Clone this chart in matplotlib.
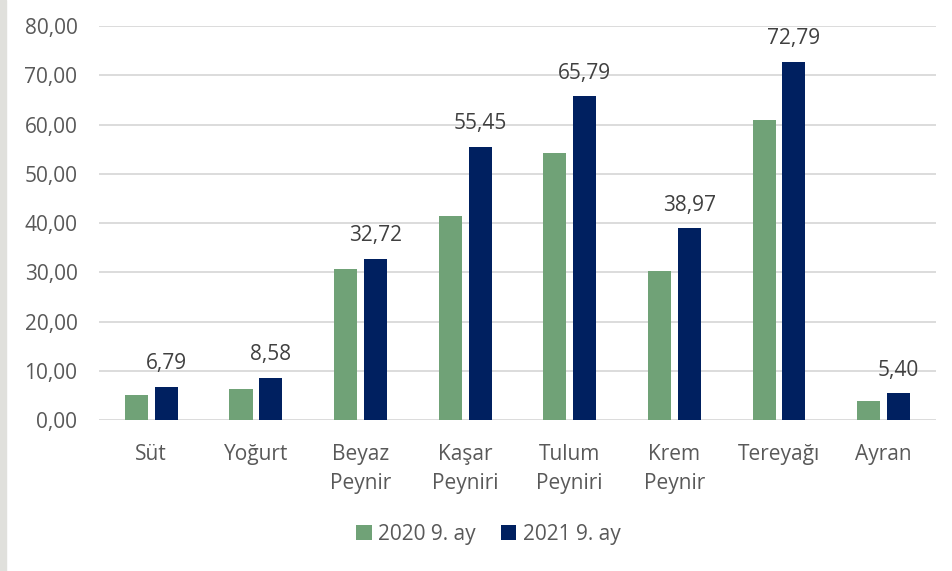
import numpy as np
import matplotlib.pyplot as plt
from matplotlib.patches import Rectangle

plt.rcParams['font.family'] = ['Open Sans', 'DejaVu Sans']

categories = ['Süt', 'Yoğurt', 'Beyaz\nPeynir', 'Kaşar\nPeyniri', 'Tulum\nPeyniri',
              'Krem\nPeynir', 'Tereyağı', 'Ayran']
values_2020 = [5.0, 6.3, 30.6, 41.4, 54.2, 30.2, 60.9, 3.8]
values_2021 = [6.79, 8.58, 32.72, 55.45, 65.79, 38.97, 72.79, 5.40]

green = '#70A277'
navy = '#002060'
text_col = '#595959'

fig = plt.figure(figsize=(9.52, 5.71), dpi=100)
ax = fig.add_axes([0.104, 0.2644, 0.879, 0.690])

# light gray strip on the left edge
fig.patches.append(Rectangle((0, 0), 0.0065, 1, transform=fig.transFigure,
                             color='#E0E0DC', zorder=0))

x = np.arange(len(categories))
w = 0.22
gap = 0.065
ax.bar(x - (w + gap) / 2, values_2020, w, color=green, label='2020 9. ay', zorder=3)
bars = ax.bar(x + (w + gap) / 2, values_2021, w, color=navy, label='2021 9. ay', zorder=3)

# value labels only on the 2021 bars
for b, v in zip(bars, values_2021):
    ax.annotate(f'{v:.2f}'.replace('.', ','), (b.get_x() + b.get_width() / 2, v),
                xytext=(0, 9), textcoords='offset points', ha='center', va='bottom',
                fontsize=15, color='#404040')

ax.set_ylim(0, 80)
ax.set_xlim(-0.5, len(categories) - 0.5)
ax.set_yticks(np.arange(0, 81, 10))
ax.set_yticklabels([f'{t:.2f}'.replace('.', ',') for t in np.arange(0, 81, 10)],
                   fontsize=15, color=text_col)
ax.set_xticks(x)
ax.set_xticklabels(categories, fontsize=15, color=text_col, linespacing=1.45, va='top')
ax.tick_params(axis='both', length=0)
ax.tick_params(axis='y', pad=15.5)
ax.tick_params(axis='x', pad=17.5)
ax.grid(axis='y', color='#D9D9D9', linewidth=1.3, zorder=0)
for s in ax.spines.values():
    s.set_visible(False)

leg = fig.legend(loc='center', bbox_to_anchor=(0.513, 0.064), ncol=2, frameon=False,
                 fontsize=15, handlelength=0.75, handleheight=0.75, handletextpad=0.3,
                 columnspacing=1.2)
for t in leg.get_texts():
    t.set_color(text_col)

fig.savefig('out.png', dpi=100)
